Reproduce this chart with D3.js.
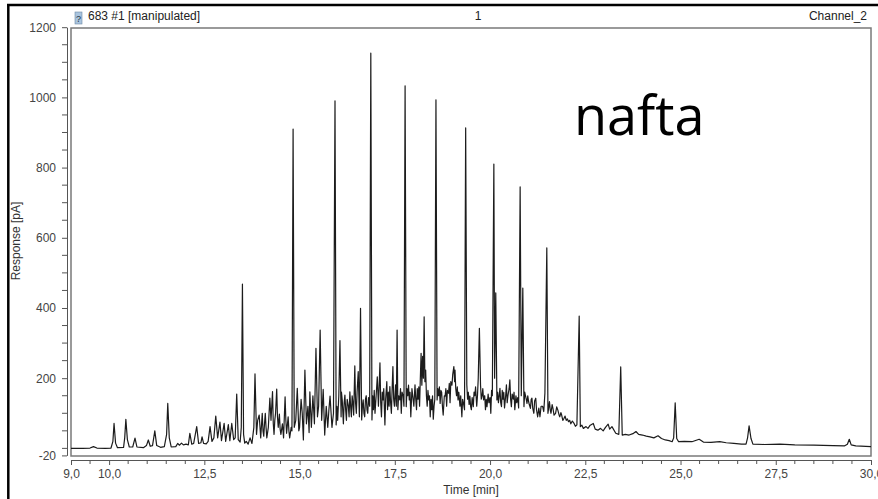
<!DOCTYPE html>
<html>
<head>
<meta charset="utf-8">
<script src="https://cdn.jsdelivr.net/npm/d3@7"></script>
<style>
  body { margin: 0; background: #fff; }
  svg { display: block; }
</style>
</head>
<body>
<div id="chart"></div>
<script>
// chromatogram trace: [time (min), response (pA)]
const earlyTrace = [
  [9.0,0],[9.3,0],[9.5,1],[9.59,5],[9.68,1],[9.9,0],[10.05,1],[10.1,20],[10.13,71],[10.17,15],
  [10.22,2],[10.38,3],[10.41,30],[10.44,83],[10.48,25],[10.53,4],[10.62,4],[10.68,29],[10.73,4],
  [10.9,2],[10.98,8],[11.03,24],[11.08,6],[11.14,8],[11.2,50],[11.25,8],[11.35,3],[11.45,5],
  [11.51,40],[11.54,128],[11.58,30],[11.63,4],[11.75,5],[11.8,14],[11.85,9],[11.9,15],[11.95,10],
  [12.02,12],[12.08,10],[12.12,43],[12.17,12],[12.22,14],[12.3,62],[12.35,14],[12.41,16],
  [12.44,33],[12.48,14]
];

const humpTrace = [
  [12.55,13],[12.6,20],[12.65,62],[12.7,20],[12.75,30],[12.8,92],[12.85,30],[12.91,75],[12.95,22],
  [13.02,71],[13.06,20],[13.13,68],[13.17,22],[13.22,71],[13.27,25],[13.31,30],[13.35,155],
  [13.39,25],[13.44,18],[13.47,60],[13.5,468],[13.53,40],[13.56,15],[13.6,20],[13.65,12],
  [13.7,30],[13.75,14],[13.8,60],[13.83,212],[13.87,40],[13.9,80],[13.94,95],[13.98,30],
  [14.02,100],[14.04,50],[14.06,35],[14.08,70],[14.1,100],[14.12,60],[14.14,30],[14.18,60],
  [14.22,143],[14.25,80],[14.29,162],[14.31,70],[14.33,40],[14.35,80],[14.37,100],[14.4,169],
  [14.42,90],[14.44,60],[14.47,98],[14.49,55],[14.51,40],[14.55,70],[14.58,30],[14.6,90],
  [14.62,147],[14.64,80],[14.66,43],[14.7,90],[14.72,50],[14.74,30],[14.78,60],[14.8,50],
  [14.83,910],[14.86,60],[14.9,80],[14.94,171],[14.98,50],[15.0,60],[15.04,140],[15.07,100],
  [15.1,24],[15.14,223],[15.18,70],[15.22,120],[15.25,45],[15.27,161],[15.31,60],[15.35,150],
  [15.39,70],[15.43,285],[15.47,90],[15.5,120],[15.54,337],[15.58,80],[15.62,168],[15.66,38],
  [15.7,120],[15.74,60],[15.77,110],[15.8,149],[15.85,60],[15.89,100],[15.93,990],[15.96,67],
  [15.98,120],[16.0,80],[16.03,150],[16.06,307],[16.09,90],[16.1,160],[16.12,138],[16.15,70],
  [16.17,130],[16.19,152],[16.21,110],[16.23,80],[16.25,140],[16.28,120],[16.3,90],[16.32,161],
  [16.34,120],[16.36,90],[16.38,150],[16.4,130],[16.42,95],[16.45,235],[16.47,130],[16.49,100],
  [16.51,160],[16.54,219],[16.57,90],[16.6,399],[16.63,81],[16.65,120],[16.67,138],[16.69,100],
  [16.71,90],[16.73,140],[16.75,150],[16.77,110],[16.79,100],[16.81,145],[16.84,120],[16.87,1126],
  [16.9,81],[16.92,150],[16.94,110],[16.96,165],[16.98,100],[17.01,150],[17.04,204],[17.07,120],
  [17.09,180],[17.11,244],[17.13,130],[17.15,90],[17.17,160],[17.19,138],[17.21,170],[17.24,67],
  [17.26,140],[17.29,190],[17.31,110],[17.33,160],[17.35,120],[17.37,176],[17.39,130],[17.41,100],
  [17.43,170],[17.45,233],[17.47,140],[17.49,120],[17.52,181],[17.54,120],[17.56,337],[17.58,110],
  [17.6,150],[17.63,138],[17.65,170],[17.67,100],[17.69,160],[17.72,150],[17.74,120],[17.77,1033],
  [17.8,119],[17.82,170],[17.84,150],[17.86,180],[17.88,138],[17.9,160],[17.92,90],[17.95,170],
  [17.97,150],[18.0,120],[18.03,181],[18.05,140],[18.07,110],[18.09,170],[18.11,140],[18.13,175],
  [18.15,120],[18.17,200],[18.19,271],[18.21,180],[18.23,262],[18.25,200],[18.27,375],[18.29,190],
  [18.31,223],[18.33,150],[18.35,120],[18.37,165],[18.39,138],[18.41,150],[18.43,90],[18.45,140],
  [18.47,110],[18.49,150],[18.51,83],[18.53,120],[18.55,140],[18.58,993],[18.61,138],[18.63,170],
  [18.65,150],[18.67,175],[18.69,128],[18.71,165],[18.73,160],[18.75,120],[18.77,95],[18.8,150],
  [18.82,149],[18.84,170],[18.86,120],[18.88,165],[18.91,157],[18.93,185],[18.95,130],[18.97,190],
  [19.0,180],[19.02,210],[19.05,233],[19.07,190],[19.08,223],[19.1,170],[19.12,150],[19.14,175],
  [19.16,138],[19.18,160],[19.21,120],[19.23,150],[19.26,90],[19.28,140],[19.3,130],[19.33,110],
  [19.36,913],[19.39,181],[19.41,140],[19.43,160],[19.45,125],[19.47,149],[19.49,120],[19.51,110],
  [19.53,145],[19.56,119],[19.58,160],[19.6,150],[19.62,175],[19.65,120],[19.67,150],[19.69,200],
  [19.72,342],[19.75,181],[19.77,140],[19.79,150],[19.81,170],[19.83,138],[19.86,150],[19.88,110],
  [19.9,140],[19.92,119],[19.95,155],[19.97,130],[20.0,145],[20.02,100],[20.04,165],[20.06,150],
  [20.1,810],[20.12,200],[20.15,443],[20.18,138],[20.2,160],[20.22,130],[20.24,150],[20.26,171],
  [20.28,130],[20.3,119],[20.32,165],[20.34,140],[20.36,160],[20.38,115],[20.41,150],[20.43,181],
  [20.45,130],[20.47,150],[20.5,170],[20.52,195],[20.54,140],[20.56,119],[20.58,155],[20.61,140],
  [20.63,160],[20.65,110],[20.68,150],[20.7,130],[20.73,145],[20.75,115],[20.79,745],[20.82,150],
  [20.86,457],[20.89,119],[20.91,160],[20.93,150],[20.95,140],[20.97,128],[20.99,150],[21.01,135],
  [21.03,125],[21.06,114],[21.08,140],[21.1,143],[21.12,115],[21.15,100],[21.17,135],[21.2,143],
  [21.22,110],[21.25,90],[21.28,115],[21.31,90],[21.34,120],[21.38,120],[21.41,105],[21.44,157],
  [21.49,571],[21.52,100],[21.56,133],[21.58,110],[21.6,100],[21.63,125],[21.65,115],[21.68,95],
  [21.72,100],[21.75,118],[21.78,109],[21.81,96],[21.83,90],[21.86,102],[21.88,95],[21.91,80],
  [21.94,85],[21.97,92],[22.0,80],[22.03,84],[22.06,76],[22.09,80],[22.12,70],[22.16,78],
  [22.2,72],[22.24,63],[22.28,67],[22.34,377],[22.37,62],[22.41,66],[22.45,57]
];

const tailTrace = [
  [22.52,62],[22.57,57],[22.62,65],[22.71,71],[22.76,55],[22.83,52],[22.9,57],[22.97,50],
  [23.03,60],[23.1,69],[23.14,55],[23.2,62],[23.3,43],[23.38,40],[23.43,232],[23.47,38],
  [23.55,40],[23.65,38],[23.75,42],[23.83,48],[23.9,40],[24.0,38],[24.1,35],[24.2,33],[24.3,30],
  [24.41,36],[24.5,28],[24.6,24],[24.7,22],[24.78,19],[24.82,30],[24.86,130],[24.9,28],[24.95,19],
  [25.1,20],[25.3,19],[25.49,26],[25.6,18],[25.8,17],[26.03,19],[26.2,16],[26.4,14],[26.6,12],
  [26.72,12],[26.76,30],[26.8,64],[26.85,28],[26.9,12],[27.2,11],[27.61,12],[28.0,10],[28.5,9],
  [29.0,8],[29.3,7],[29.38,12],[29.43,26],[29.48,10],[29.6,7],[30.0,5]
];

const xMajor = [9, 10, 12.5, 15, 17.5, 20, 22.5, 25, 27.5, 30];
const yMajor = [-20, 200, 400, 600, 800, 1000, 1200];

const trace = earlyTrace.concat(humpTrace, tailTrace);

const W = 878, H = 499;
const svg = d3.select("#chart").append("svg")
  .attr("width", W)
  .attr("height", H);

const xs = d3.scaleLinear().domain([9, 30]).range([71, 871]);
const ys = d3.scaleLinear().domain([-20, 1200]).range([455.4, 27.2]);

const font = "'Liberation Sans', Arial, sans-serif";
const comma = d => d3.format(".1f")(d).replace(".", ",");

// outer window border
svg.append("line").attr("x1", 7).attr("x2", W).attr("y1", 5).attr("y2", 5)
  .attr("stroke", "#000").attr("stroke-width", 2.5);
svg.append("line").attr("x1", 8.3).attr("x2", 8.3).attr("y1", 4).attr("y2", H)
  .attr("stroke", "#000").attr("stroke-width", 2.5);

// plot frame
svg.append("rect")
  .attr("x", 71).attr("y", 28)
  .attr("width", 800).attr("height", 428)
  .attr("fill", "none")
  .attr("stroke", "#7a7a7a")
  .attr("stroke-width", 1.5);

// y axis
const yMinor = d3.range(0, 1200, 50).filter(v => !yMajor.includes(v));
const yAxis = svg.append("g")
  .attr("transform", "translate(67,0)")
  .call(d3.axisLeft(ys).tickValues(yMajor).tickFormat(d => String(d))
    .tickSize(5).tickPadding(6).tickSizeOuter(0));
yAxis.selectAll(".minor").data(yMinor).enter().append("line")
  .attr("class", "minor")
  .attr("x1", -5).attr("x2", 0)
  .attr("y1", d => ys(d)).attr("y2", d => ys(d))
  .attr("stroke", "#555");

// x axis
const xMinor = d3.range(9.5, 30, 0.5).filter(v => !xMajor.includes(v));
const xAxis = svg.append("g")
  .attr("transform", "translate(0,460)")
  .call(d3.axisBottom(xs).tickValues(xMajor).tickFormat(comma)
    .tickSize(5).tickPadding(4).tickSizeOuter(0));
xAxis.selectAll(".minor").data(xMinor).enter().append("line")
  .attr("class", "minor")
  .attr("x1", d => xs(d)).attr("x2", d => xs(d))
  .attr("y1", 0).attr("y2", 4)
  .attr("stroke", "#555");

svg.selectAll(".tick line").attr("stroke", "#555");
svg.selectAll(".domain").attr("stroke", "#555");
svg.selectAll(".tick text")
  .attr("fill", "#444")
  .style("font-family", font)
  .style("font-size", "12px");

// trace
svg.append("path")
  .datum(trace)
  .attr("d", d3.line().x(d => xs(d[0])).y(d => ys(d[1])))
  .attr("fill", "none")
  .attr("stroke", "#1c1c1c")
  .attr("stroke-width", 1.2)
  .attr("stroke-linejoin", "round");

// header
svg.append("rect").attr("x", 75).attr("y", 12).attr("width", 7).attr("height", 12)
  .attr("fill", "#a9c4de").attr("stroke", "#6f8aa6").attr("stroke-width", 0.6);
svg.append("text").attr("x", 78.5).attr("y", 22).attr("text-anchor", "middle")
  .style("font-family", font).style("font-size", "9px").attr("fill", "#234").text("?");
svg.append("text").attr("x", 88).attr("y", 19.5)
  .style("font-family", font).style("font-size", "12px").attr("fill", "#222")
  .text("683 #1 [manipulated]");
svg.append("text").attr("x", 478).attr("y", 19.5).attr("text-anchor", "middle")
  .style("font-family", font).style("font-size", "12px").attr("fill", "#222")
  .text("1");
svg.append("text").attr("x", 867).attr("y", 19.5).attr("text-anchor", "end")
  .style("font-family", font).style("font-size", "12px").attr("fill", "#222")
  .text("Channel_2");

// axis titles
svg.append("text")
  .attr("transform", "translate(20,241) rotate(-90)")
  .attr("text-anchor", "middle")
  .style("font-family", font).style("font-size", "12px").attr("fill", "#333")
  .text("Response [pA]");
svg.append("text")
  .attr("x", 471).attr("y", 494)
  .attr("text-anchor", "middle")
  .style("font-family", font).style("font-size", "12px").attr("fill", "#333")
  .text("Time [min]");

// sample name
svg.append("text")
  .attr("x", 574).attr("y", 135)
  .style("font-family", "'Open Sans', Lato, sans-serif")
  .style("font-size", "54px")
  .attr("fill", "#000")
  .text("nafta");
</script>
</body>
</html>
